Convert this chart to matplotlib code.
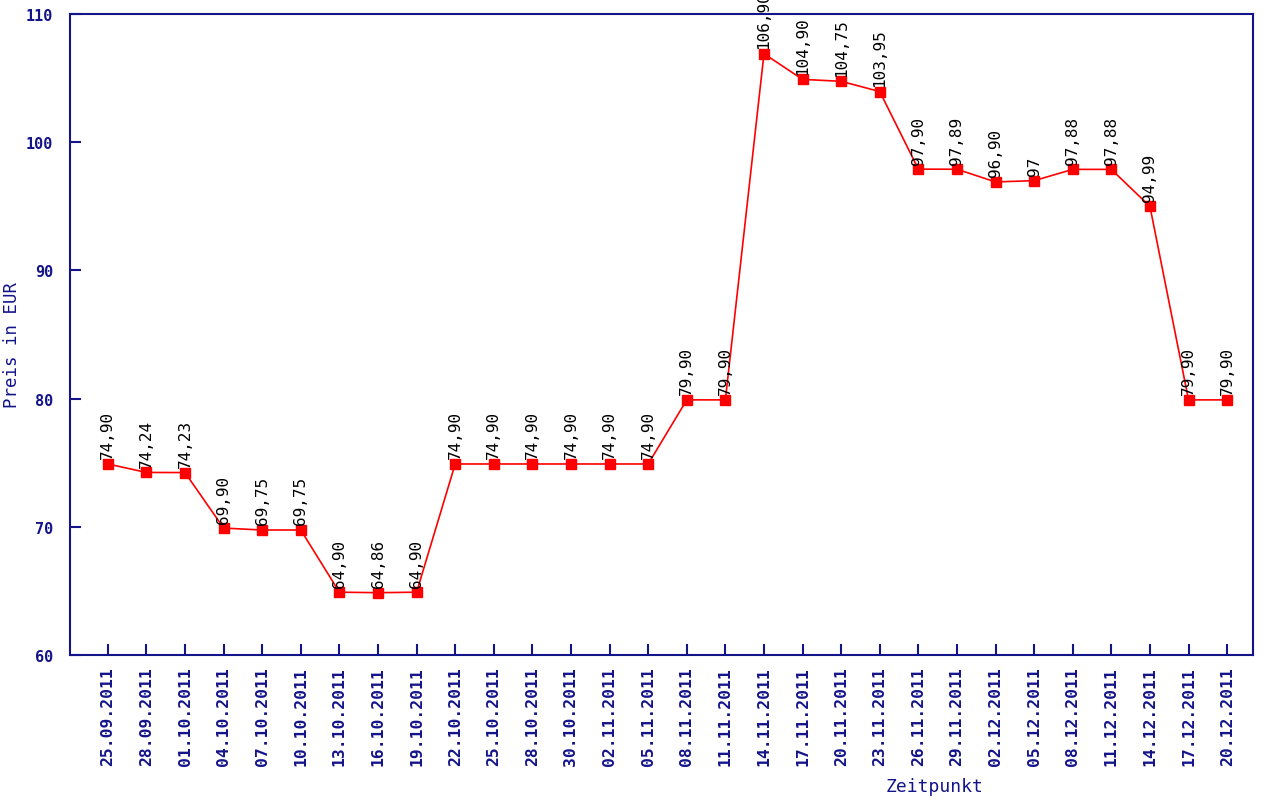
import matplotlib
matplotlib.use("Agg")
import matplotlib.pyplot as plt

dates = ["25.09.2011", "28.09.2011", "01.10.2011", "04.10.2011", "07.10.2011",
         "10.10.2011", "13.10.2011", "16.10.2011", "19.10.2011", "22.10.2011",
         "25.10.2011", "28.10.2011", "30.10.2011", "02.11.2011", "05.11.2011",
         "08.11.2011", "11.11.2011", "14.11.2011", "17.11.2011", "20.11.2011",
         "23.11.2011", "26.11.2011", "29.11.2011", "02.12.2011", "05.12.2011",
         "08.12.2011", "11.12.2011", "14.12.2011", "17.12.2011", "20.12.2011"]
prices = [74.90, 74.24, 74.23, 69.90, 69.75, 69.75, 64.90, 64.86, 64.90, 74.90,
          74.90, 74.90, 74.90, 74.90, 74.90, 79.90, 79.90, 106.90, 104.90, 104.75,
          103.95, 97.90, 97.89, 96.90, 97.00, 97.88, 97.88, 94.99, 79.90, 79.90]
labels = ["74,90", "74,24", "74,23", "69,90", "69,75", "69,75", "64,90", "64,86",
          "64,90", "74,90", "74,90", "74,90", "74,90", "74,90", "74,90", "79,90",
          "79,90", "106,90", "104,90", "104,75", "103,95", "97,90", "97,89", "96,90",
          "97", "97,88", "97,88", "94,99", "79,90", "79,90"]
yticks = [60, 70, 80, 90, 100, 110]

navy = "#14148a"
mono = "DejaVu Sans Mono"

fig = plt.figure(figsize=(12.8, 8.04), dpi=100)
ax = fig.add_axes([70 / 1280, 1 - 656 / 804, 1183 / 1280, 641 / 804])

xs = list(range(len(prices)))
ax.plot(xs, prices, color="#ff0000", linewidth=1.2, marker="s",
        markersize=6.5, markerfacecolor="#ff0000", markeredgecolor="#ff0000")

# price labels above each point (the top one runs off the picture, like the original)
for x, y, lab in zip(xs, prices, labels):
    ax.annotate(lab, (x, y), xytext=(0, 4), textcoords="offset points",
                rotation=90, ha="center", va="bottom", fontsize=11.5,
                family=mono, color="black", annotation_clip=False)

ax.set_xlim(-0.98, 29.67)
ax.set_ylim(60, 110)
ax.set_yticks(yticks)
ax.set_yticklabels([str(v) for v in yticks], family=mono, fontsize=11,
                   fontweight="bold", color=navy)
ax.set_xticks(xs)
ax.set_xticklabels(dates, rotation=90, family=mono, fontsize=11.8,
                   fontweight="bold", color=navy)
ax.tick_params(axis="both", direction="in", length=8, width=1.5, color=navy, pad=8)
ax.tick_params(axis="y", pad=12)

for s in ax.spines.values():
    s.set_color(navy)
    s.set_linewidth(1.5)

fig.text(12 / 1280, 1 - 345 / 804, "Preis in EUR", rotation=90, ha="center",
         va="center", family=mono, fontsize=12.5, color=navy)
fig.text(935 / 1280, 1 - 787 / 804, "Zeitpunkt", ha="center", va="center",
         family=mono, fontsize=13, color=navy)

fig.savefig("out.png", dpi=100)
